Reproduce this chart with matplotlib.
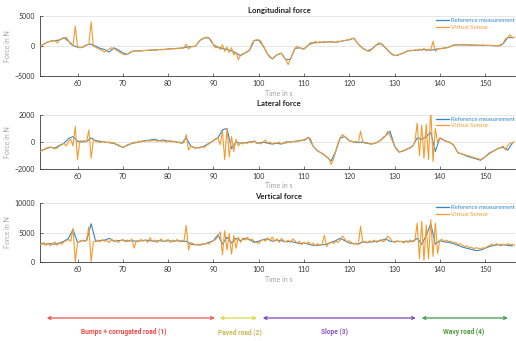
import numpy as np
import matplotlib
matplotlib.use("Agg")
import matplotlib.pyplot as plt

# ---------------- data ----------------
# Virtual sensor sampled every 0.5 s from 51.5 s; reference every 1 s from 52 s
vs_start, vs_step = 51.5, 0.5
ref_start, ref_step = 52.0, 1.0

long_virtual = [
    -50, 100, 300, 500, 700, 800, 850, 900, 500, 1000,
    1150, 1300, 1450, 900, 250, 100, 3300, -200, -300, -250,
    -100, 200, 300, 4000, -50, -200, -400, -600, -800, -1000,
    -750, -500, -300, -450, -650, -900, -1150, -1350, -1450, -1400,
    -1100, -900, -850, -800, -850, -800, -750, -750, -700, -700,
    -650, -700, -650, -600, -600, -550, -600, -500, -500, -450,
    -450, -400, -400, -350, -300, 300, -500, -150, -100, -50,
    400, 900, 1200, 1350, 1500, 1350, 1000, 200, -300, -100,
    -600, 200, -900, -200, -1100, -300, -1500, -1000, -2300, -1500,
    -1300, -1150, -1000, -700, 400, 900, 1050, 1000, 800, 0,
    -700, -1400, -1900, -2150, -1800, -1500, -1300, -1200, -1800, -2300,
    -3100, -2200, -1300, -400, -50, -300, -450, -500, -200, 200,
    600, 400, 800, 500, 700, 600, 750, 550, 700, 650,
    700, 600, 800, 750, 850, 900, 1000, 1050, 1200, 1300,
    800, 300, -50, -400, -600, -800, -900, -500, -200, 200,
    550, 400, 150, -300, -700, -1100, -1450, -1600, -1550, -1450,
    -1300, -1150, -1000, -800, -700, -750, -650, -700, -500, -750,
    -400, -800, -500, -700, 800, -900, -500, -450, -400, -350,
    -300, -200, 0, 150, 150, 200, 200, 200, 150, 200,
    150, 150, 150, 150, 100, 100, 150, 100, 100, 100,
    100, 50, 50, 50, 50, 500, 1200, 1400, 1900, 1300,
    1500,
]
long_reference = [
    100, 500, 800, 900, 1000, 1400, 800, 100, -200, -250,
    200, 300, -50, -400, -600, -1000, -300, -650, -1150, -1400,
    -900, -800, -800, -750, -700, -650, -600, -600, -500, -450,
    -400, -350, -200, -100, -50, 900, 1350, 1350, 200, -200,
    -400, -600, -800, -1200, -1600, -1150, -700, 900, 1000, 0,
    -1400, -2150, -1500, -1200, -2300, -2200, -400, -300, -500, 200,
    500, 600, 600, 650, 700, 600, 750, 900, 1050, 1300,
    300, -400, -800, -500, 200, 400, -300, -1100, -1600, -1450,
    -1150, -800, -750, -700, -600, -600, -700, -550, -450, -350,
    -200, 150, 200, 200, 200, 150, 150, 100, 100, 100,
    50, 50, 400, 1400, 1400,
]

lat_virtual = [
    -750, -650, -570, -480, -400, -380, -420, -500, -450, -300,
    -200, -100, -300, 50, 200, -300, 1150, -1300, 100, 50,
    100, 0, 900, -1200, 200, 50, 0, -50, 50, 0,
    -50, 0, -100, -50, -150, -200, -300, -400, -350, -200,
    -150, -100, 0, -50, 50, 0, 100, 50, 100, 50,
    100, 150, 50, 100, 50, 100, 0, 50, 100, 0,
    50, -50, 0, -100, -50, 550, -600, -300, -350, -450,
    -400, -450, -350, -400, -250, -150, 0, 100, 250, 300,
    -200, 800, -1300, 1000, -1100, 400, -700, 200, -300, -50,
    -150, -50, -100, 0, -50, 100, -100, -50, -150, 0,
    150, -100, 0, -150, -50, -100, 0, -150, -50, -100,
    0, -50, 50, 0, 100, 50, 150, 100, 200, 350,
    200, -300, -500, -650, -750, -850, -950, -1100, -1200, -1650,
    -1300, -700, -100, 300, 550, 400, 250, 100, 50, 0,
    50, -50, 800, 0, -100, -50, -150, -150, -100, -50,
    50, 150, 350, 450, 800, 450, 100, -300, -600, -750,
    -700, -650, -550, -500, -450, -300, 0, 1400, -1000, 1250,
    -1200, 1300, -1300, 2400, -1450, 1000, 0, 300, 250, 100,
    50, 0, -100, -200, -500, -800, -850, -900, -950, -1000,
    -1050, -1100, -1150, -1200, -1250, -1300, -1200, -1100, -1000, -850,
    -750, -650, -550, -450, -400, -300, -600, -250, -100, -50,
    0,
]
lat_reference = [
    -650, -500, -400, -450, -250, -100, 250, 400, 50, 0,
    50, 300, 100, 50, 0, -50, -100, -250, -400, -250,
    -100, -50, 50, 100, 150, 200, 100, 150, 50, 50,
    0, -100, 300, -300, -450, -400, -300, -100, 100, 300,
    900, 1000, -500, 0, -100, -50, 0, 50, -100, 0,
    -100, -150, -100, -150, 0, 0, 50, 100, 150, 350,
    -300, -650, -850, -1100, -1400, -700, 300, 400, 100, 0,
    -50, 0, -100, -150, -50, 150, 450, 800, -300, -750,
    -650, -500, -300, 300, 200, 400, 700, -700, 300, 100,
    0, -200, -800, -900, -1050, -1150, -1250, -1350, -1100, -800,
    -650, -450, -400, -600, -100,
]

vert_virtual = [
    3150, 2900, 3300, 2800, 3200, 2700, 3100, 3400, 2800, 3300,
    3000, 3400, 3600, 3800, 3500, 5700, 0, 3400, 3500, 3700,
    3500, 3700, 6000, 0, 3400, 3500, 3700, 3400, 3800, 3500,
    3600, 3300, 3900, 3500, 3700, 3300, 3600, 3800, 3400, 3700,
    3500, 3900, 2300, 3600, 3400, 3800, 3500, 3700, 3300, 4100,
    3500, 3700, 3300, 3600, 3900, 3400, 3600, 3800, 3300, 3700,
    3500, 3800, 3400, 3700, 3500, 6200, 2000, 3300, 3100, 2900,
    3000, 2800, 3100, 2900, 3200, 3000, 3400, 3600, 3800, 4300,
    5100, 1200, 5300, 2000, 4800, 1300, 4500, 2300, 4200, 3300,
    4100, 3700, 4200, 3600, 3900, 3500, 3300, 3100, 3600, 3800,
    3500, 4100, 3600, 4200, 3500, 3900, 3300, 4000, 3600, 3400,
    3700, 3300, 3900, 3600, 3200, 3500, 2900, 3300, 3100, 3400,
    2900, 3200, 2700, 3100, 2800, 3000, 4500, 2600, 3200, 3400,
    3100, 3500, 3300, 3700, 4400, 3900, 3400, 3600, 3300, 3000,
    3200, 2900, 6100, 3300, 3500, 3200, 3600, 3400, 3700, 3300,
    3500, 3800, 3400, 3700, 4400, 4000, 3500, 3300, 3600, 3400,
    3500, 3200, 3600, 3300, 3700, 3400, 3600, 6600, 500, 6900,
    200, 6300, 500, 7200, 900, 6600, 1400, 3700, 3800, 3500,
    3700, 3400, 3500, 3200, 3300, 2900, 3100, 2800, 2600, 2700,
    2400, 2500, 2200, 2400, 2300, 2200, 2400, 2300, 2600, 2800,
    3000, 2800, 3100, 2900, 2700, 3000, 2800, 3100, 2900, 3000,
    2800,
]
vert_reference = [
    3100, 3000, 3100, 3000, 3200, 3500, 4000, 5500, 3300, 3600,
    3600, 6500, 3500, 3600, 3700, 4000, 3500, 3600, 3700, 3500,
    3600, 3500, 3600, 3700, 3600, 3500, 3600, 3500, 3600, 3500,
    3600, 3500, 3500, 3000, 2900, 2900, 3000, 3300, 3600, 4600,
    3000, 4200, 3200, 4000, 3600, 4000, 3800, 3300, 3500, 3800,
    3900, 3500, 3700, 3600, 3400, 3500, 3300, 3100, 3200, 3000,
    2800, 2800, 2900, 3000, 3300, 3600, 4000, 3600, 3200, 3100,
    3000, 3400, 3300, 3400, 3500, 3600, 3900, 3500, 3400, 3500,
    3400, 3500, 3500, 4000, 3000, 4500, 6500, 3000, 3600, 3400,
    3300, 3100, 2800, 2500, 2300, 2100, 1900, 2000, 2300, 2600,
    2800, 2900, 2900, 2800, 2700,
]

titles = ["Longitudinal force", "Lateral force", "Vertical force"]
y_ticks = [[-5000, 0, 5000], [-2000, 0, 2000], [0, 5000, 10000]]
y_limits = [(-5000, 5000), (-2000, 2000), (0, 10000)]
x_ticks = [60, 70, 80, 90, 100, 110, 120, 130, 140, 150]
x_limits = (51.6, 156.6)
series_names = ["Reference measurement", "Virtual Sensor"]

seg_starts = [53.2, 91.4, 100.9, 136.0]
seg_ends = [90.3, 99.6, 134.7, 155.0]
seg_label_x = [70.2, 95.8, 116.8, 145.3]
seg_labels = ["Bumps + corrugated road (1)", "Paved road (2)", "Slope (3)", "Wavy road (4)"]

# ---------------- styling ----------------
BLUE = "#2f87cc"
ORANGE = "#f59b2e"
seg_line_colors = ["#f0504c", "#d8d84a", "#7c46b8", "#3e9a48"]
seg_text_colors = ["#ee4a46", "#c8b955", "#8a55c2", "#4e9a3e"]

W, H = 516, 341
fig = plt.figure(figsize=(W / 100, H / 100), dpi=100)
plt.rcParams["font.family"] = ["Lato", "DejaVu Sans"]

# axes boxes in pixels: (left, top, right, bottom)
boxes = [(39.5, 16, 515, 76), (39.5, 115, 515, 169), (39.5, 203.3, 515, 261.7)]
title_y = [10.5, 104, 196.5]
xlabel_y = [93, 185.7, 279]

virtuals = [long_virtual, lat_virtual, vert_virtual]
references = [long_reference, lat_reference, vert_reference]

axes = []
for i in range(3):
    l, t, r, b = boxes[i]
    ax = fig.add_axes([l / W, 1 - b / H, (r - l) / W, (b - t) / H])
    axes.append(ax)
    tv = vs_start + vs_step * np.arange(len(virtuals[i]))
    tr = ref_start + ref_step * np.arange(len(references[i]))
    ax.plot(tr, references[i], color=BLUE, lw=0.8, label=series_names[0], zorder=2)
    ax.plot(tv, virtuals[i], color=ORANGE, lw=0.8, label=series_names[1], zorder=3)
    ax.set_xlim(*x_limits)
    ax.set_ylim(*y_limits[i])
    ax.set_yticks(y_ticks[i])
    ax.set_xticks(x_ticks)
    ax.yaxis.grid(True, color="#e3e3e3", lw=0.6)
    ax.set_axisbelow(True)
    for s in ["top", "right"]:
        ax.spines[s].set_visible(False)
    for s in ["left", "bottom"]:
        ax.spines[s].set_color("#3a3a3a")
        ax.spines[s].set_linewidth(0.6)
    ax.tick_params(axis="both", direction="in", length=2.5, width=0.5,
                   color="#3a3a3a", labelsize=5.0, labelcolor="#333333", pad=3)
    ax.set_ylabel("Force in N", fontsize=5.0, color="#a8a8a8", labelpad=3)
    fig.text(279 / W, 1 - xlabel_y[i] / H, "Time in s", fontsize=5.0,
             color="#a0a0a0", ha="center", va="center")
    fig.text(279 / W, 1 - title_y[i] / H, titles[i], fontsize=5.6,
             fontweight="bold", color="#222222", ha="center", va="center")
    leg = ax.legend(loc="upper right", bbox_to_anchor=(1.0, 0.97), frameon=False,
                    fontsize=4.3, labelcolor="linecolor", handlelength=2.3,
                    handletextpad=0.3, labelspacing=0.25, borderaxespad=0,
                    borderpad=0)
    for line in leg.get_lines():
        line.set_linewidth(0.9)

# ---------------- road segment annotations ----------------
ax3 = axes[2]
for s, e, lx, lab, lc, tc in zip(seg_starts, seg_ends, seg_label_x, seg_labels,
                                  seg_line_colors, seg_text_colors):
    ax3.annotate("", xy=(e, H - 318), xytext=(s, H - 318),
                 xycoords=("data", "figure pixels"), textcoords=("data", "figure pixels"),
                 arrowprops=dict(arrowstyle="<->", color=lc, lw=0.9,
                                 shrinkA=0, shrinkB=0, mutation_scale=5),
                 annotation_clip=False)
    ax3.annotate(lab, xy=(lx, H - 332), xycoords=("data", "figure pixels"),
                 ha="center", va="center", fontsize=4.8, fontweight="bold",
                 color=tc, family=["Roboto", "DejaVu Sans"], annotation_clip=False)

fig.savefig("out.png", dpi=100)
